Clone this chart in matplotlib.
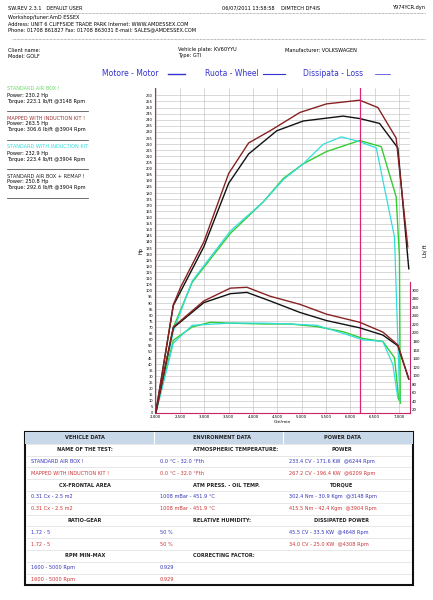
import matplotlib
matplotlib.use("Agg")
import matplotlib.pyplot as plt
from matplotlib.patches import Rectangle
import numpy as np

# power curves (Hp) vs rpm
red_pw_rpm = [2000, 2362, 2512, 2989, 3500, 3910, 4353, 4967, 5513, 6195, 6570, 6945, 7184]
red_pw = [0, 88.6, 103, 140, 196, 221, 231, 246, 253, 256, 250, 225, 136]
blk_pw_rpm = [2000, 2362, 2989, 3500, 3910, 4490, 5035, 5854, 6195, 6604, 6980, 7205]
blk_pw = [0, 88, 136, 188, 212, 231, 239, 243, 241, 237, 217, 118]
grn_pw_rpm = [2000, 2362, 2750, 3535, 4217, 4626, 5035, 5513, 6195, 6638, 6945, 7013, 7030]
grn_pw = [0, 70, 107, 147, 173, 192, 204, 214, 223, 218, 177, 128, 8]
cyn_pw_rpm = [2000, 2362, 2750, 3535, 4217, 4626, 5035, 5445, 5820, 6195, 6536, 6911, 7020]
cyn_pw = [0, 67, 108, 149, 173, 191, 204, 220, 226, 222, 217, 144, 10]

# torque curves (lb ft) vs rpm
red_tq_rpm = [2000, 2362, 2989, 3535, 3876, 4353, 4967, 5513, 6195, 6672, 6980, 7205]
red_tq = [12, 214, 275, 305, 307, 286, 267, 244, 225, 202, 172, 92]
blk_tq_rpm = [2000, 2362, 2989, 3535, 3876, 4353, 4967, 5513, 6195, 6672, 6980, 7205]
blk_tq = [12, 212, 271, 292, 295, 275, 248, 229, 212, 195, 170, 92]
grn_tq_rpm = [2000, 2362, 2750, 3125, 3535, 4217, 4763, 5308, 5854, 6263, 6672, 6911, 7000]
grn_tq = [12, 183, 214, 225, 223, 221, 221, 215, 203, 187, 180, 142, 43]
cyn_tq_rpm = [2000, 2362, 2750, 3535, 4217, 4763, 5308, 5854, 6263, 6672, 6877, 6980]
cyn_tq = [12, 176, 218, 223, 223, 221, 218, 199, 184, 180, 126, 47]

xtick_vals = np.arange(2000, 7001, 500)
cursor_rpm = 6209

fig = plt.figure(figsize=(4.33, 6.0), dpi=100)
fs = 3.6


def t(x, y, s, **kw):
    kw.setdefault("fontsize", fs)
    kw.setdefault("va", "center")
    fig.text(x / 433, 1 - y / 600, s, **kw)


def hline(y, x0=12, x1=425, ls=(0, (1, 1)), c="#777777", lw=0.5):
    fig.add_artist(plt.Line2D([x0 / 433, x1 / 433], [1 - y / 600] * 2, color=c, lw=lw, ls=ls))


# header
t(8, 8, "SW.REV 2.3.1   DEFAULT USER")
t(222, 8, "06/07/2011 13:58:58    DIMTECH DF4IS")
t(425, 8, "Y974YCR.dyn", ha="right")
hline(13)
t(8, 18, "Workshop/tuner:AmD ESSEX")
t(8, 24, "Address: UNIT 6 CLIFFSIDE TRADE PARK Internet: WWW.AMDESSEX.COM")
t(8, 30, "Phone: 01708 861827 Fax: 01708 863031 E-mail: SALES@AMDESSEX.COM")
hline(39)
t(8, 50, "Client name:")
t(8, 56, "Model: GOLF")
t(178, 50, "Vehicle plate: KV60YYU")
t(178, 56, "Type: GTI")
t(285, 50, "Manufacturer: VOLKSWAGEN")

t(102, 74, "Motore - Motor", fontsize=5.5, color="#3333cc")
t(205, 74, "Ruota - Wheel", fontsize=5.5, color="#3333cc")
t(303, 74, "Dissipata - Loss", fontsize=5.5, color="#3333cc")
for x0, x1, w in [(168, 185, 1.0), (263, 285, 0.8), (375, 390, 0.5)]:
    hline(74, x0, x1, ls="-", c="#3333cc", lw=w)

# side legend blocks
blocks = [
    ("STANDARD AIR BOX !", "#66dd66", "230.2", "223.1", "3148"),
    ("MAPPED WITH INDUCTION KIT !", "#993333", "263.5", "306.6", "3904"),
    ("STANDARD WITH INDUCTION KIT", "#33dddd", "232.9", "223.4", "3904"),
    ("STANDARD AIR BOX + REMAP !", "#222222", "250.8", "292.6", "3904"),
]
y = 89
for name, col, p, q, r in blocks:
    t(7, y, name, color=col)
    t(7, y + 6, "Power: %s Hp" % p)
    t(7, y + 12, "Torque: %s lb/ft @%s Rpm" % (q, r))
    hline(y + 22, 7, 88, ls="-", c="#333333")
    y += 29

# chart
ax = fig.add_axes([155 / 433, 1 - 413 / 600, 255 / 433, 325 / 600])
ax.set_xlim(1985, 7230)
ax.set_ylim(0, 266)
ax.set_yticks(np.arange(0, 261, 5))
ax.set_yticklabels([str(v) for v in range(0, 261, 5)], fontsize=2.6)
ax.set_xticks(xtick_vals)
ax.set_xticklabels(["{:,}".format(v) for v in xtick_vals], fontsize=2.8)
ax.grid(True, color="#bbbbbb", lw=0.4)
ax.tick_params(length=0, pad=1.5)
for s in ["top", "right"]:
    ax.spines[s].set_visible(False)
ax.spines["left"].set_color("#cc2266")
ax.spines["bottom"].set_color("#cc2266")
ax.set_ylabel("Hp", fontsize=3.5, labelpad=2)
ax.set_xlabel("Giri/min", fontsize=3.2, labelpad=0.5)

ax2 = ax.twinx()
ax2.set_ylim(12.4, 774)
ax2.set_yticks(np.arange(20, 301, 20))
ax2.set_yticklabels([str(v) for v in range(20, 301, 20)], fontsize=2.8)
ax2.tick_params(length=0, pad=1.5)
for s in ["top", "left", "bottom"]:
    ax2.spines[s].set_visible(False)
ax2.spines["right"].set_color("#cc2266")
ax2.spines["right"].set_bounds(12.4, 320)
ax2.set_ylabel("Lb/ ft", fontsize=3.5, labelpad=2)

ax.plot(grn_pw_rpm, grn_pw, color="#33cc33", lw=1.0)
ax.plot(cyn_pw_rpm, cyn_pw, color="#33dddd", lw=0.9)
ax.plot(blk_pw_rpm, blk_pw, color="#111111", lw=1.0)
ax.plot(red_pw_rpm, red_pw, color="#882222", lw=1.0)
ax2.plot(grn_tq_rpm, grn_tq, color="#33cc33", lw=1.0)
ax2.plot(cyn_tq_rpm, cyn_tq, color="#33dddd", lw=0.9)
ax2.plot(blk_tq_rpm, blk_tq, color="#111111", lw=1.0)
ax2.plot(red_tq_rpm, red_tq, color="#882222", lw=1.0)
ax.axvline(cursor_rpm, color="#dd2277", lw=0.9)

# data table
tx0, tx1, ty0 = 25, 413, 432
rowh = 11.8
blue, red = "#3333bb", "#cc3333"
rows = [
    ("hdr", ["VEHICLE DATA", "ENVIRONMENT DATA", "POWER DATA"]),
    ("b", ["NAME OF THE TEST:", "ATMOSPHERIC TEMPERATURE:", "POWER"]),
    (blue, ["STANDARD AIR BOX !", "0.0 °C - 32.0 °Fth", "233.4 CV - 171.6 KW  @6244 Rpm"]),
    (red, ["MAPPED WITH INDUCTION KIT !", "0.0 °C - 32.0 °Fth", "267.2 CV - 196.4 KW  @6209 Rpm"]),
    ("b", ["CX-FRONTAL AREA", "ATM PRESS. - OIL TEMP.", "TORQUE"]),
    (blue, ["0.31 Cx - 2.5 m2", "1008 mBar - 451.9 °C", "302.4 Nm - 30.9 Kgm  @3148 Rpm"]),
    (red, ["0.31 Cx - 2.5 m2", "1008 mBar - 451.9 °C", "415.5 Nm - 42.4 Kgm  @3904 Rpm"]),
    ("b", ["RATIO-GEAR", "RELATIVE HUMIDITY:", "DISSIPATED POWER"]),
    (blue, ["1.72 - 5", "50 %", "45.5 CV - 33.5 KW  @4648 Rpm"]),
    (red, ["1.72 - 5", "50 %", "34.0 CV - 25.0 KW  @4308 Rpm"]),
    ("b", ["RPM MIN-MAX", "CORRECTING FACTOR:", ""]),
    (blue, ["1600 - 5000 Rpm", "0.929", ""]),
    (red, ["1600 - 5000 Rpm", "0.929", ""]),
]
tbl_h = rowh * len(rows)
fig.add_artist(Rectangle((tx0 / 433, 1 - (ty0 + tbl_h) / 600), (tx1 - tx0) / 433, tbl_h / 600,
                         fill=False, lw=1.5, ec="#111111"))
fig.add_artist(Rectangle((tx0 / 433, 1 - (ty0 + rowh) / 600), (tx1 - tx0) / 433, rowh / 600,
                         fc="#c8d8e8", ec="none"))
for x in (154, 283):
    fig.add_artist(plt.Line2D([x / 433] * 2, [1 - ty0 / 600, 1 - (ty0 + rowh) / 600], color="#ffffff", lw=0.8))
centers = [85, 211, 342]
lefts = [31, 160, 289]
for i, (kind, cells) in enumerate(rows):
    yc = ty0 + rowh * (i + 0.5)
    if i > 0:
        hline(ty0 + rowh * i, tx0 + 2, tx1 - 2, ls="-", c="#dddddd")
    for j, s in enumerate(cells):
        if kind in ("hdr", "b"):
            xs = centers[j] if j != 1 else 193
            ha = "center" if j != 1 else "left"
            t(xs, yc, s, fontweight="bold", color="#222222", ha=ha, fontsize=3.6)
        else:
            t(lefts[j], yc, s, color=kind, fontsize=3.6)

fig.savefig("out.png", dpi=100)
